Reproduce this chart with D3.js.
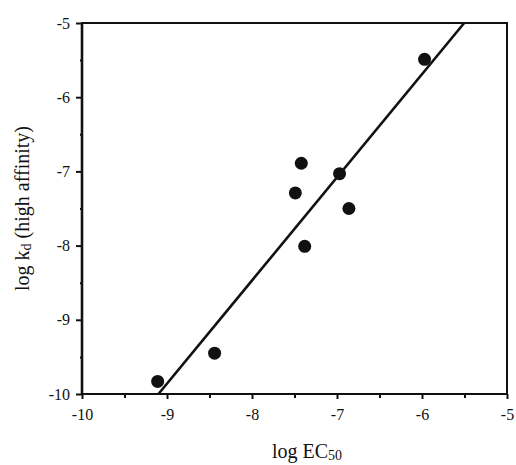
<!DOCTYPE html>
<html>
<head>
<meta charset="utf-8">
<script src="https://cdn.jsdelivr.net/npm/d3@7"></script>
<style>
  html, body { margin: 0; padding: 0; background: #fff; }
  svg { display: block; }
  text { font-family: "Liberation Serif", "Times New Roman", serif; fill: #111; }
</style>
</head>
<body>
<svg id="chart" width="516" height="465"></svg>
<script>
// Data
const logEC50 = [-9.11, -8.44, -7.49, -7.42, -7.38, -6.97, -6.86, -5.97];
const logKd   = [-9.83, -9.45, -7.29, -6.89, -8.01, -7.03, -7.50, -5.49];
const fitSlope = 1.39;
const fitIntercept = 2.65;
const xTicks = [-10, -9, -8, -7, -6, -5];
const yTicks = [-10, -9, -8, -7, -6, -5];
const xMinorTicks = [-9.5, -8.5, -7.5, -6.5, -5.5];
const yMinorTicks = [-9.5, -8.5, -7.5, -6.5, -5.5];

const svg = d3.select("#chart");
const m = { left: 82, right: 9, top: 23, bottom: 71 };
const W = 516, H = 465;
const x = d3.scaleLinear().domain([-10, -5]).range([m.left, W - m.right]);
const y = d3.scaleLinear().domain([-10, -5]).range([H - m.bottom, m.top]);

// Frame
svg.append("rect")
  .attr("x", x(-10)).attr("y", y(-5))
  .attr("width", x(-5) - x(-10)).attr("height", y(-10) - y(-5))
  .attr("fill", "none").attr("stroke", "#111").attr("stroke-width", 2);
svg.append("line")
  .attr("x1", x(-10)).attr("x2", x(-10)).attr("y1", y(-5)).attr("y2", y(-10))
  .attr("stroke", "#111").attr("stroke-width", 2.6);

// Axes
svg.append("g").attr("transform", `translate(0,${y(-10)})`)
  .call(d3.axisBottom(x).tickValues(xTicks).tickFormat(d3.format("d")).tickSize(5).tickPadding(10));
svg.append("g").attr("transform", `translate(${x(-10)},0)`)
  .call(d3.axisLeft(y).tickValues(yTicks).tickFormat(d3.format("d")).tickSize(6).tickPadding(6));
svg.append("g").attr("transform", `translate(0,${y(-10)})`)
  .call(d3.axisBottom(x).tickValues(xMinorTicks).tickFormat("").tickSize(4));
svg.append("g").attr("transform", `translate(${x(-10)},0)`)
  .call(d3.axisLeft(y).tickValues(yMinorTicks).tickFormat("").tickSize(2));

svg.selectAll(".domain").remove();
svg.selectAll(".tick line").attr("stroke", "#111").attr("stroke-width", 2);
svg.selectAll(".tick text").style("font-family", "Liberation Serif, serif")
  .style("font-size", "16px").attr("fill", "#111");
svg.selectAll(".tick text").text(function() { return this.textContent.replace("\u2212", "-"); });

// Fit line, clipped to the plot range
const xa = (-10 - fitIntercept) / fitSlope;
const xb = (-5 - fitIntercept) / fitSlope;
svg.append("line")
  .attr("x1", x(xa)).attr("y1", y(fitSlope * xa + fitIntercept))
  .attr("x2", x(xb)).attr("y2", y(fitSlope * xb + fitIntercept))
  .attr("stroke", "#111").attr("stroke-width", 2.6);

// Points
svg.append("g").selectAll("circle")
  .data(logEC50.map((v, i) => [v, logKd[i]]))
  .join("circle")
  .attr("cx", d => x(d[0])).attr("cy", d => y(d[1]))
  .attr("r", 6.5).attr("fill", "#111");

// X title
const xt = svg.append("text")
  .attr("x", 307).attr("y", 458)
  .attr("text-anchor", "middle")
  .style("font-size", "20px");
xt.append("tspan").text("log EC");
xt.append("tspan").attr("dy", 2).style("font-size", "14px").text("50");

// Y title
const yt = svg.append("text")
  .attr("transform", `translate(29,${(y(-5) + y(-10)) / 2}) rotate(-90)`)
  .attr("text-anchor", "middle")
  .style("font-size", "20px");
yt.append("tspan").text("log k");
yt.append("tspan").attr("dy", 2).style("font-size", "14px").text("d");
yt.append("tspan").attr("dy", -2).text(" (high affinity)");
</script>
</body>
</html>
